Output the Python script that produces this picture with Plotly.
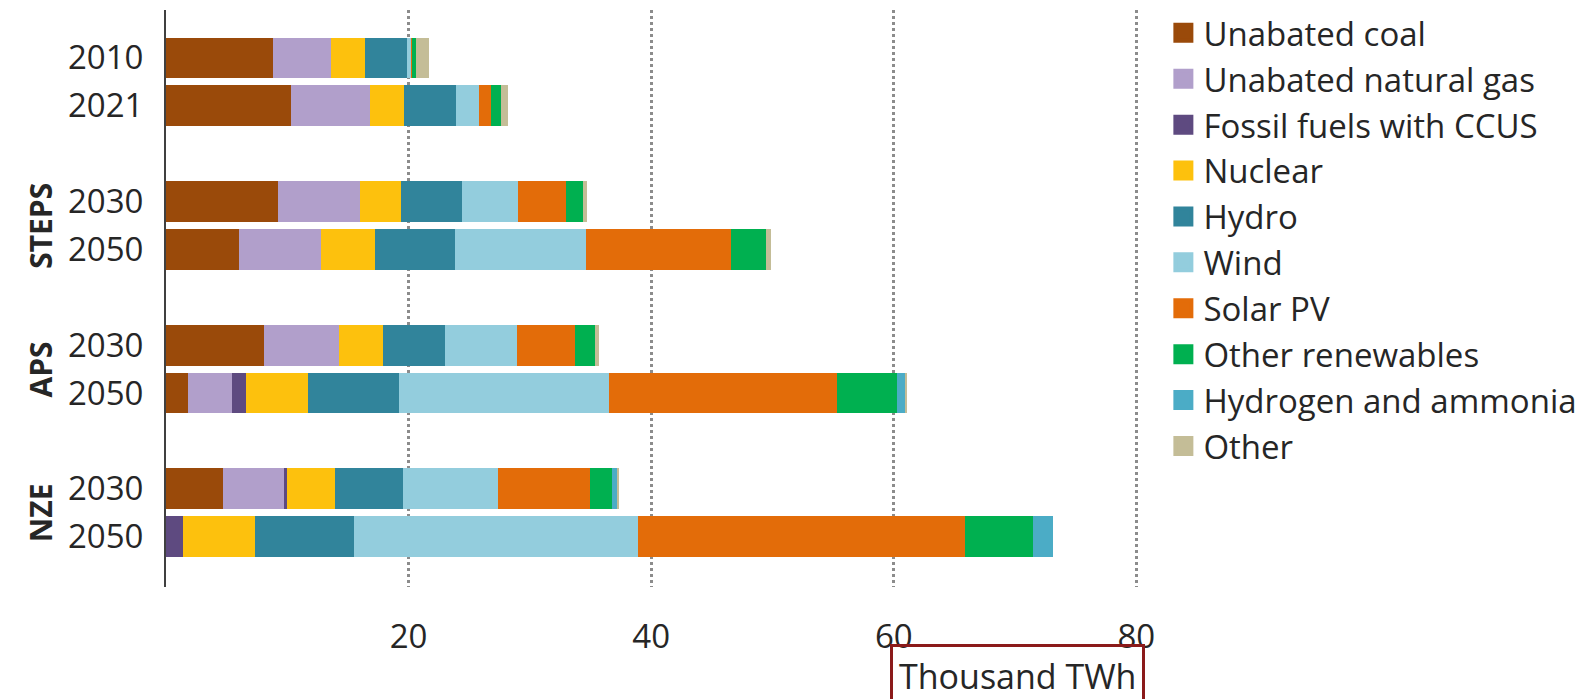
import plotly.graph_objects as go

# ---- data (thousand TWh) ----
scenarios = ["", "", "STEPS", "STEPS", "APS", "APS", "NZE", "NZE"]
years = ["2010", "2021", "2030", "2050", "2030", "2050", "2030", "2050"]
sources = ["Unabated coal", "Unabated natural gas", "Fossil fuels with CCUS", "Nuclear",
           "Hydro", "Wind", "Solar PV", "Other renewables", "Hydrogen and ammonia", "Other"]
colors = ["#9A4A0A", "#B19FCB", "#5E4A80", "#FDC10D", "#31849B",
          "#93CDDD", "#E36C09", "#00B050", "#4BACC6", "#C4BD97"]

unabated_coal = [8.8, 10.3, 9.2, 6.0, 8.1, 1.8, 4.7, 0.0]
unabated_gas = [4.8, 6.5, 6.8, 6.8, 6.2, 3.6, 5.1, 0.0]
fossil_ccus = [0.0, 0.0, 0.0, 0.0, 0.0, 1.2, 0.15, 1.4]
nuclear = [2.8, 2.8, 3.4, 4.4, 3.6, 5.1, 4.0, 5.9]
hydro = [3.5, 4.3, 5.0, 6.6, 5.1, 7.5, 5.6, 8.2]
wind = [0.3, 1.9, 4.6, 10.8, 5.9, 17.3, 7.8, 23.4]
solar_pv = [0.05, 1.0, 4.0, 12.0, 4.8, 18.8, 7.6, 27.0]
other_renewables = [0.4, 0.8, 1.4, 2.9, 1.7, 5.0, 1.8, 5.6]
hydrogen_ammonia = [0.0, 0.0, 0.0, 0.0, 0.0, 0.6, 0.5, 1.6]
other = [1.0, 0.6, 0.3, 0.4, 0.3, 0.2, 0.1, 0.0]

series = [unabated_coal, unabated_gas, fossil_ccus, nuclear, hydro, wind,
          solar_pv, other_renewables, hydrogen_ammonia, other]

x_ticks = [20, 40, 60, 80]

# ---- layout helpers: slot positions with a gap between scenario groups ----
ypos = []
slot = 0
prev = None
for i, sc in enumerate(scenarios):
    if i > 0 and sc != prev:
        slot += 1
    ypos.append(slot)
    slot += 1
    prev = sc

FONT = "Open Sans"
TXT = "#262626"

fig = go.Figure()
for name, vals, col in zip(sources, series, colors):
    fig.add_trace(go.Bar(
        x=vals, y=ypos, orientation="h", name=name,
        marker=dict(color=col, line=dict(width=0)),
        width=0.85, showlegend=False,
    ))
# legend entries (larger square symbols)
for name, col in zip(sources, colors):
    fig.add_trace(go.Scatter(
        x=[None], y=[None], mode="markers", name=name, legendgroup=name,
        marker=dict(symbol="square", size=16, color=col, line=dict(width=4, color=col)),
        showlegend=True,
    ))

# scenario group labels
groups = {}
for sc, yp in zip(scenarios, ypos):
    if sc:
        groups.setdefault(sc, []).append(yp)
for sc, yps in groups.items():
    fig.add_annotation(
        x=-0.129, xref="paper", y=sum(yps) / len(yps), yref="y",
        text="<b>%s</b>" % sc, textangle=-90, showarrow=False,
        font=dict(family=FONT, size=30, color=TXT), xanchor="center", yanchor="middle",
    )

fig.add_annotation(
    x=0.874, xref="paper", y=-0.154, yref="paper", text="Thousand TWh",
    showarrow=False, font=dict(family=FONT, size=34, color=TXT),
    bordercolor="#8B1A1A", borderwidth=3, borderpad=6,
    xanchor="center", yanchor="middle",
)

fig.update_layout(
    barmode="stack",
    width=1593, height=699,
    margin=dict(l=158, r=461, t=2, b=120, autoexpand=False),
    plot_bgcolor="white", paper_bgcolor="white",
    font=dict(family=FONT, color=TXT),
    bargap=0,
    legend=dict(
        x=1.024, xanchor="left", xref="paper",
        y=0.196, yanchor="bottom", yref="paper",
        font=dict(family=FONT, size=33, color=TXT),
        tracegroupgap=0, traceorder="normal",
        bgcolor="rgba(0,0,0,0)",
    ),
    xaxis=dict(
        range=[0, 80.3], tickvals=x_ticks, ticktext=[str(v) for v in x_ticks],
        showgrid=True, gridcolor="#8C8C8C", gridwidth=3, griddash="dot",
        zeroline=False, showline=False,
        ticks="outside", ticklen=20, tickcolor="rgba(0,0,0,0)",
        tickfont=dict(family=FONT, size=33, color=TXT),
    ),
    yaxis=dict(
        range=[ypos[-1] + 1.05, -1], tickvals=ypos, ticktext=years,
        showgrid=False, zeroline=False,
        showline=True, linecolor="#404040", linewidth=2,
        ticks="outside", ticklen=14, tickcolor="rgba(0,0,0,0)",
        tickfont=dict(family=FONT, size=33, color=TXT),
    ),
)

fig.write_html("out.html")
